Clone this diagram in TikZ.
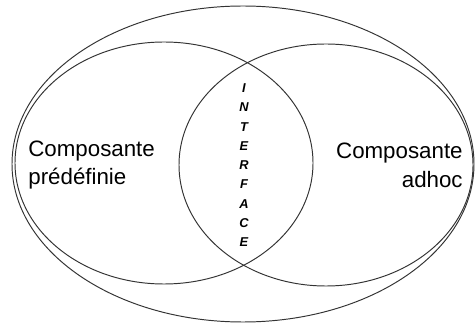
\documentclass[tikz,border=0pt]{standalone}
\usepackage{fontspec}
\setmainfont{Liberation Sans}
\tikzset{
    bord/.style={draw=black!80, line width=.55pt},
    composante/.style={inner sep=0pt, font=\fontsize{12.7}{16.4}\selectfont},
    lettre/.style={inner sep=0pt, font=\fontsize{7.3}{8}\selectfont\bfseries\itshape}
}
\begin{document}
\begin{tikzpicture}[x=0.02cm, y=-0.02cm]
    \useasboundingbox (0,0) rectangle (476,327);
    \draw[bord] (243,164) ellipse (231 and 158);
    \draw[bord] (164,163) ellipse (149 and 121);
    \draw[bord] (326,165) ellipse (147 and 121);

    \node[composante, align=left, anchor=west] (predef) at (28,165) {Composante\\pr\'ed\'efinie};
    \node[composante, align=right, anchor=east] (adhoc) at (463,165) {Composante\\adhoc};

    \foreach \l [count=\i] in {I,N,T,E,R,F,A,C,E}
        \node[lettre] (int\i) at (244, 69+19.25*\i) {\l};
\end{tikzpicture}
\end{document}
